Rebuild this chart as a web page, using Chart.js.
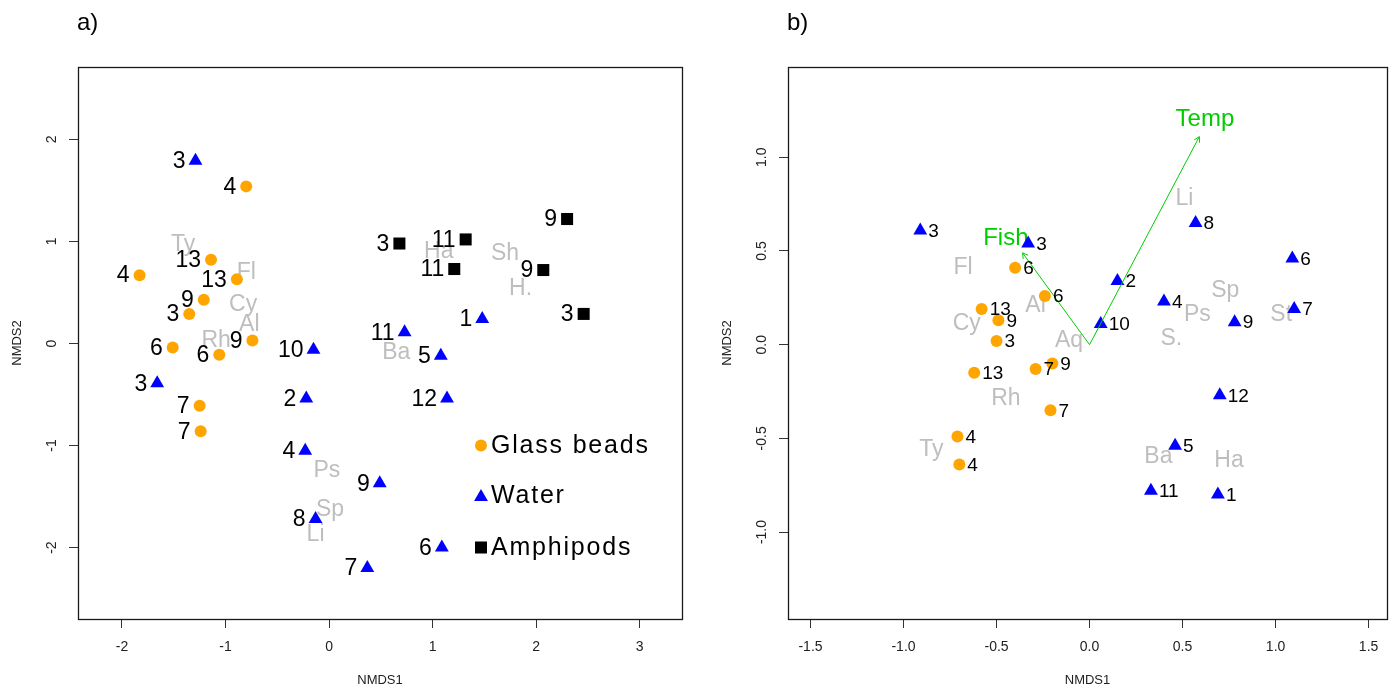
<!DOCTYPE html>
<html><head><meta charset="utf-8">
<script src="https://cdn.jsdelivr.net/npm/chart.js@4.4.1/dist/chart.umd.min.js"></script>
<style>
html,body{margin:0;padding:0;background:#fff;}
#wrap{position:relative;width:1397px;height:689px;overflow:hidden;background:#fff}
canvas{position:absolute;top:0}
#ca{left:0}
#cb{left:699px}
</style></head><body>
<div id="wrap"><canvas id="ca" width="698" height="689"></canvas><canvas id="cb" width="698" height="689"></canvas></div>
<script>
// ---------------- Panel a) ----------------
const aBeadLab = ['4','4','13','13','9','3','6','9','6','7','7'];
const aBeadX   = [-0.80,-1.83,-1.14,-0.89,-1.21,-1.35,-1.51,-0.74,-1.06,-1.25,-1.24];
const aBeadY   = [ 1.54, 0.67, 0.82, 0.63, 0.43, 0.29,-0.04, 0.03,-0.11,-0.61,-0.86];

const aWaterLab = ['3','3','10','2','4','8','7','9','6','11','5','12','1'];
const aWaterX   = [-1.29,-1.66,-0.15,-0.22,-0.23,-0.13,0.37,0.49,1.09,0.73,1.08,1.14,1.48];
const aWaterY   = [ 1.79,-0.39,-0.06,-0.54,-1.05,-1.72,-2.20,-1.37,-2.00,0.11,-0.12,-0.54,0.24];

const aAmphLab = ['3','11','11','9','9','3'];
const aAmphX   = [0.68,1.32,1.21,2.30,2.07,2.46];
const aAmphY   = [0.98,1.02,0.73,1.22,0.72,0.29];

const aSpLab = ['Ty','Fl','Cy','Al','Rh','Ha','Sh','H.','Ba','Ps','Sp','Li'];
const aSpX   = [-1.41,-0.80,-0.83,-0.77,-1.09,1.06,1.70,1.85,0.65,-0.02,0.01,-0.13];
const aSpY   = [ 0.97, 0.69, 0.38, 0.18, 0.03,0.90,0.88,0.54,-0.09,-1.25,-1.63,-1.87];

const aXTicks = [-2,-1,0,1,2,3];
const aXTickLab = ['-2','-1','0','1','2','3'];
const aYTicks = [-2,-1,0,1,2];
const aYTickLab = ['-2','-1','0','1','2'];

// ---------------- Panel b) ----------------
const bBeadLab = ['6','6','13','9','3','13','7','9','7','4','4'];
const bBeadX   = [-0.40,-0.24,-0.58,-0.49,-0.50,-0.62,-0.29,-0.20,-0.21,-0.71,-0.70];
const bBeadY   = [ 0.41, 0.26, 0.19, 0.13, 0.02,-0.15,-0.13,-0.10,-0.35,-0.49,-0.64];

const bWaterLab = ['3','3','8','6','2','4','10','9','7','12','5','11','1'];
const bWaterX   = [-0.91,-0.33,0.57,1.09,0.15,0.40,0.06,0.78,1.10,0.70,0.46,0.33,0.69];
const bWaterY   = [ 0.61, 0.54,0.65,0.46,0.34,0.23,0.11,0.12,0.19,-0.27,-0.54,-0.78,-0.80];

const bSpLab = ['Li','Sp','Ps','St','S.','Ba','Ha','Fl','Al','Cy','Aq','Rh','Ty'];
const bSpX   = [0.51,0.73,0.58,1.03,0.44,0.37,0.75,-0.68,-0.29,-0.66,-0.11,-0.45,-0.85];
const bSpY   = [0.78,0.29,0.16,0.16,0.03,-0.60,-0.62,0.41,0.21,0.11,0.02,-0.29,-0.56];

const envNames = ['Temp','Fish'];
const envTipX  = [0.59,-0.36];
const envTipY  = [1.11, 0.49];
const envLabX  = [0.62,-0.45];
const envLabY  = [1.20, 0.57];

const bXTicks = [-1.5,-1,-0.5,0,0.5,1,1.5];
const bXTickLab = ['-1.5','-1.0','-0.5','0.0','0.5','1.0','1.5'];
const bYTicks = [-1,-0.5,0,0.5,1];
const bYTickLab = ['-1.0','-0.5','0.0','0.5','1.0'];

const legendLab = ['Glass beads','Water','Amphipods'];

// ---------------- styles ----------------
const F = '"Liberation Sans", Arial, sans-serif';
const ORANGE = '#FFA500', BLUE = '#0000FF', BLACK = '#000000', GRAY = '#BEBEBE', GREEN = '#00CD00';

function pts(xs, ys) { return xs.map((x, i) => ({x: x, y: ys[i]})); }

function sampleSet(label, xs, ys, labs, style, r, color) {
  return {label: label, data: pts(xs, ys), sampleLabels: labs, pointStyle: style,
    pointRadius: r, pointHoverRadius: r, backgroundColor: color, borderColor: color,
    borderWidth: 0, showLine: false, order: 2};
}
function textSet(label, xs, ys, labs, color, size) {
  return {label: label, data: pts(xs, ys), textLabels: labs, textColor: color, textSize: size,
    pointRadius: 0, pointHoverRadius: 0, showLine: false, order: 5};
}

function scaleCfg(min, max, ticks, fitFn) {
  return {
    type: 'linear', min: min, max: max,
    afterBuildTicks: s => { s.ticks = ticks.map(v => ({value: v})); },
    afterFit: fitFn,
    ticks: {display: false},
    grid: {display: true, drawOnChartArea: false, drawTicks: true, tickLength: 9, color: '#333', lineWidth: 1},
    border: {display: false}
  };
}

function decor(cfg) {
  return {
    id: 'decor',
    beforeDatasetsDraw(chart) {
      const ctx = chart.ctx;
      chart.data.datasets.forEach((ds, di) => {
        if (!ds.textLabels) return;
        const meta = chart.getDatasetMeta(di);
        ctx.save();
        ctx.font = ds.textSize + 'px ' + F;
        ctx.fillStyle = ds.textColor;
        ctx.textAlign = 'center';
        ctx.textBaseline = 'middle';
        meta.data.forEach((el, i) => ctx.fillText(ds.textLabels[i], el.x, el.y));
        ctx.restore();
      });
    },
    afterDatasetsDraw(chart) {
      const ctx = chart.ctx;
      // arrow heads
      chart.data.datasets.forEach((ds, di) => {
        if (!ds.arrow) return;
        const m = chart.getDatasetMeta(di).data;
        const p0 = m[0], p1 = m[1];
        const ang = Math.atan2(p1.y - p0.y, p1.x - p0.x);
        const L = 6, A = Math.PI / 6;
        ctx.save();
        ctx.strokeStyle = ds.borderColor; ctx.lineWidth = 1;
        ctx.beginPath();
        ctx.moveTo(p1.x - L * Math.cos(ang - A), p1.y - L * Math.sin(ang - A));
        ctx.lineTo(p1.x, p1.y);
        ctx.lineTo(p1.x - L * Math.cos(ang + A), p1.y - L * Math.sin(ang + A));
        ctx.stroke();
        ctx.restore();
      });
      // sample labels
      chart.data.datasets.forEach((ds, di) => {
        if (!ds.sampleLabels) return;
        const meta = chart.getDatasetMeta(di);
        ctx.save();
        ctx.font = cfg.labSize + 'px ' + F;
        ctx.fillStyle = '#000';
        ctx.textBaseline = 'middle';
        ctx.textAlign = cfg.labSide === 'left' ? 'right' : 'left';
        meta.data.forEach((el, i) => {
          const x = cfg.labSide === 'left' ? el.x - 10 : el.x + 8;
          ctx.fillText(ds.sampleLabels[i], x, el.y + 1);
        });
        ctx.restore();
      });
    },
    afterDraw(chart) {
      const ctx = chart.ctx, a = chart.chartArea;
      const xs = chart.scales.x, ys = chart.scales.y;
      ctx.save();
      // box
      ctx.strokeStyle = '#1a1a1a'; ctx.lineWidth = 1.3;
      ctx.strokeRect(Math.round(a.left) + 0.5, Math.round(a.top) + 0.5, Math.round(a.right - a.left), Math.round(a.bottom - a.top));
      // x tick labels
      ctx.fillStyle = '#222';
      ctx.font = '14px ' + F;
      ctx.textAlign = 'center'; ctx.textBaseline = 'middle';
      cfg.xTicks.forEach((v, i) => ctx.fillText(cfg.xTickLab[i], xs.getPixelForValue(v), a.bottom + 28));
      // y tick labels (rotated)
      cfg.yTicks.forEach((v, i) => {
        ctx.save();
        ctx.translate(a.left - 26, ys.getPixelForValue(v));
        ctx.rotate(-Math.PI / 2);
        ctx.fillText(cfg.yTickLab[i], 0, 0);
        ctx.restore();
      });
      // axis titles
      ctx.font = '13px ' + F;
      ctx.fillText('NMDS1', (a.left + a.right) / 2, a.bottom + 61);
      ctx.save();
      ctx.translate(a.left - 61, (a.top + a.bottom) / 2);
      ctx.rotate(-Math.PI / 2);
      ctx.fillText('NMDS2', 0, 0);
      ctx.restore();
      // panel title
      ctx.font = '24px ' + F;
      ctx.fillStyle = '#000';
      ctx.textAlign = 'left';
      ctx.fillText(cfg.title, a.left - 1, 23);
      // legend
      if (cfg.legend) {
        const lx = a.left + 403, ly = [378.5, 428, 480.5];
        const styles = [['circle', 6, ORANGE], ['triangle', 8, BLUE], ['rect', 8.5, BLACK]];
        styles.forEach((s, i) => {
          ctx.fillStyle = s[2]; ctx.strokeStyle = s[2];
          Chart.helpers.drawPoint(ctx, {pointStyle: s[0], radius: s[1], borderWidth: 0}, lx, a.top + ly[i] + (s[0] === 'triangle' ? 2 : 0));
        });
        ctx.fillStyle = '#000';
        ctx.font = '25px ' + F;
        try { ctx.letterSpacing = '1.8px'; } catch (e) {}
        legendLab.forEach((t, i) => ctx.fillText(t, lx + 10, a.top + ly[i] + 1));
      }
      ctx.restore();
    }
  };
}

function baseOptions(xmin, xmax, ymin, ymax, xt, yt, yw, padR) {
  return {
    responsive: false, animation: false, events: [],
    layout: {padding: {left: 0, top: 67, right: padR, bottom: 0}},
    plugins: {legend: {display: false}, tooltip: {enabled: false}, title: {display: false}},
    scales: {
      x: scaleCfg(xmin, xmax, xt, s => { s.height = 70; }),
      y: scaleCfg(ymin, ymax, yt, s => { s.width = yw; })
    }
  };
}

// ---- chart a
new Chart(document.getElementById('ca'), {
  type: 'scatter',
  data: {datasets: [
    sampleSet('Glass beads', aBeadX, aBeadY, aBeadLab, 'circle', 6, ORANGE),
    sampleSet('Water', aWaterX, aWaterY, aWaterLab, 'triangle', 8, BLUE),
    sampleSet('Amphipods', aAmphX, aAmphY, aAmphLab, 'rect', 8.5, BLACK),
    textSet('species', aSpX, aSpY, aSpLab, GRAY, 23)
  ]},
  options: baseOptions(-2.425, 3.41, -2.70, 2.71, aXTicks, aYTicks, 78, 16),
  plugins: [decor({title: 'a)', labSide: 'left', labSize: 23, legend: true,
    xTicks: aXTicks, xTickLab: aXTickLab, yTicks: aYTicks, yTickLab: aYTickLab})]
});

// ---- chart b
const envSets = envNames.map((n, i) => ({
  label: n, data: [{x: 0, y: 0}, {x: envTipX[i], y: envTipY[i]}], arrow: true,
  showLine: true, borderColor: GREEN, borderWidth: 1, pointRadius: 0, pointHoverRadius: 0, order: 0
}));
new Chart(document.getElementById('cb'), {
  type: 'scatter',
  data: {datasets: [
    sampleSet('Glass beads', bBeadX, bBeadY, bBeadLab, 'circle', 6, ORANGE),
    sampleSet('Water', bWaterX, bWaterY, bWaterLab, 'triangle', 8, BLUE),
    textSet('species', bSpX, bSpY, bSpLab, GRAY, 23),
    textSet('env', envLabX, envLabY, envNames, GREEN, 24)
  ].concat(envSets)},
  options: baseOptions(-1.621, 1.599, -1.464, 1.482, bXTicks, bYTicks, 89, 10),
  plugins: [decor({title: 'b)', labSide: 'right', labSize: 19, legend: false,
    xTicks: bXTicks, xTickLab: bXTickLab, yTicks: bYTicks, yTickLab: bYTickLab})]
});
</script>
</body></html>
